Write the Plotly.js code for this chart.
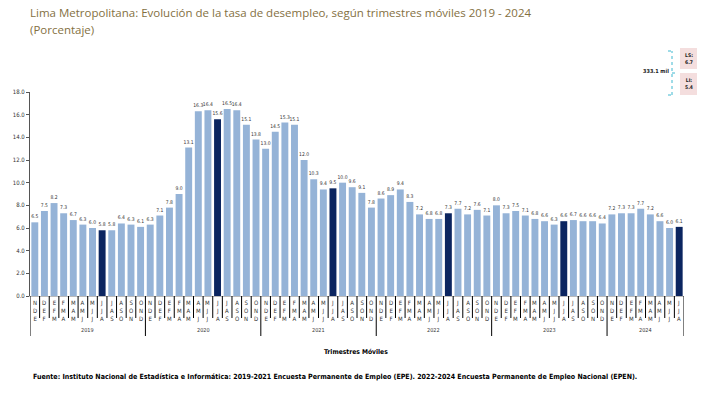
<!DOCTYPE html>
<html>
<head>
<meta charset="utf-8">
<script src="https://cdn.plot.ly/plotly-3.0.1.min.js"></script>
<style>
html,body{margin:0;padding:0;background:#fff;}
#chart{width:709px;height:393px;}
</style>
</head>
<body>
<div id="chart"></div>
<script>
// ---- data ----
const years = ["2019","2020","2021","2022","2023","2024"];
const quarterLabels = ["NDE","DEF","EFM","FMA","MAM","AMJ","MJJ","JJA","JAS","ASO","SON","OND"];
const perYearCount = [12,12,12,12,12,8];
const rate2019 = [6.5,7.5,8.2,7.3,6.7,6.3,6.0,5.8,5.8,6.4,6.3,6.1];
const rate2020 = [6.3,7.1,7.8,9.0,13.1,16.3,16.4,15.6,16.5,16.4,15.1,13.8];
const rate2021 = [13.0,14.5,15.3,15.1,12.0,10.3,9.4,9.5,10.0,9.6,9.1,7.8];
const rate2022 = [8.6,8.9,9.4,8.3,7.2,6.8,6.8,7.3,7.7,7.2,7.6,7.1];
const rate2023 = [8.0,7.3,7.5,7.1,6.8,6.6,6.3,6.6,6.7,6.6,6.6,6.4];
const rate2024 = [7.2,7.3,7.3,7.7,7.2,6.6,6.0,6.1];
const highlightQuarter = "JJA";
const yTicks = [0,2,4,6,8,10,12,14,16,18];

// ---- build ----
const allRates = [rate2019,rate2020,rate2021,rate2022,rate2023,rate2024];
const xs=[], ys=[], labs=[], colors=[];
let idx=0;
const yearStart=[];
allRates.forEach((arr,yi)=>{
  yearStart.push(idx);
  arr.forEach((v,qi)=>{
    xs.push(idx); ys.push(v);
    const q = quarterLabels[qi];
    labs.push(q);
    colors.push(q===highlightQuarter ? "#0b2560" : "#95b3d7");
    idx++;
  });
});
const n = idx;

const narrow = "Liberation Sans Narrow, Arial Narrow, DejaVu Sans Condensed, Liberation Sans, sans-serif";
const shapes=[], annotations=[];
const pxY = p => (296-p)/204;   // pixel y -> paper
const pxX = p => (p-30)/654;    // pixel x -> paper

// category separators
for(let k=0;k<=n;k++){
  const isYear = (k===n) || yearStart.includes(k);
  shapes.push({type:"line", xref:"x", yref:"paper", x0:k-0.5, x1:k-0.5,
    y0:0, y1: isYear ? pxY(336) : pxY(318), line:{color:"#000", width:1}});
}
// category labels
labs.forEach((q,i)=>{
  annotations.push({x:i, xref:"x", yref:"paper", y:pxY(297), xanchor:"center", yanchor:"top", showarrow:false,
    text:q.split("").join("<br>"), font:{family:narrow, size:6, color:"#333"}, align:"center"});
});
// year labels
years.forEach((yr,yi)=>{
  const s=yearStart[yi], c=s+(perYearCount[yi]-1)/2;
  annotations.push({x:c, xref:"x", yref:"paper", y:pxY(330), xanchor:"center", yanchor:"middle", showarrow:false,
    text:yr, font:{family:narrow, size:5.5, color:"#333"}});
});

// titles / texts
annotations.push({xref:"paper", yref:"paper", x:pxX(28), y:pxY(12), xanchor:"left", yanchor:"middle", showarrow:false,
  text:"Lima Metropolitana: Evolución de la tasa de desempleo, según trimestres móviles 2019 - 2024",
  font:{family:"Open Sans, sans-serif", size:11.5, color:"#84703f"}});
annotations.push({xref:"paper", yref:"paper", x:pxX(28), y:pxY(30), xanchor:"left", yanchor:"middle", showarrow:false,
  text:"(Porcentaje)", font:{family:"Open Sans, sans-serif", size:11.5, color:"#84703f"}});
annotations.push({xref:"paper", yref:"paper", x:pxX(356), y:pxY(352), xanchor:"center", yanchor:"middle", showarrow:false,
  text:"<b>Trimestres Móviles</b>", font:{family:narrow, size:6.7, color:"#000"}});
annotations.push({xref:"paper", yref:"paper", x:pxX(31), y:pxY(376), xanchor:"left", yanchor:"middle", showarrow:false,
  text:"<b>Fuente: Instituto Nacional de Estadística e Informática: 2019-2021 Encuesta Permanente de Empleo (EPE). 2022-2024 Encuesta Permanente de Empleo Nacional (EPEN).</b>",
  font:{family:narrow, size:7.05, color:"#000"}});

// confidence box at top right
shapes.push({type:"rect", xref:"paper", yref:"paper", x0:pxX(680), x1:pxX(697), y0:pxY(69), y1:pxY(48), fillcolor:"#f4dede", line:{width:0}});
shapes.push({type:"rect", xref:"paper", yref:"paper", x0:pxX(680), x1:pxX(697), y0:pxY(95), y1:pxY(73), fillcolor:"#f4dede", line:{width:0}});
const cy = {color:"#3fb8d0", width:1, dash:"dot"};
shapes.push({type:"line", xref:"paper", yref:"paper", x0:pxX(672), x1:pxX(672), y0:pxY(95), y1:pxY(51), line:cy});
shapes.push({type:"line", xref:"paper", yref:"paper", x0:pxX(668), x1:pxX(672), y0:pxY(51), y1:pxY(51), line:cy});
shapes.push({type:"line", xref:"paper", yref:"paper", x0:pxX(668), x1:pxX(672), y0:pxY(95), y1:pxY(95), line:cy});
shapes.push({type:"line", xref:"paper", yref:"paper", x0:pxX(672), x1:pxX(676), y0:pxY(73), y1:pxY(73), line:cy});
annotations.push({xref:"paper", yref:"paper", x:pxX(656), y:pxY(71), xanchor:"center", yanchor:"middle", showarrow:false,
  text:"<b>333.1 mil</b>", font:{family:narrow, size:5.5, color:"#222"}});
annotations.push({xref:"paper", yref:"paper", x:pxX(688.5), y:pxY(58.5), xanchor:"center", yanchor:"middle", showarrow:false,
  text:"<b>LS:<br>6.7</b>", font:{family:narrow, size:5, color:"#222"}, align:"center"});
annotations.push({xref:"paper", yref:"paper", x:pxX(688.5), y:pxY(84), xanchor:"center", yanchor:"middle", showarrow:false,
  text:"<b>LI:<br>5.4</b>", font:{family:narrow, size:5, color:"#222"}, align:"center"});

const trace = {
  type:"bar", x:xs, y:ys, width:0.72,
  marker:{color:colors, line:{width:0}},
  text: ys.map(v=>v.toFixed(1)), textposition:"outside", constraintext:"none",
  textfont:{family:narrow, size:5, color:"#333"}, cliponaxis:false, hoverinfo:"skip"
};

const layout = {
  width:709, height:393,
  margin:{l:30, r:25, t:92, b:97},
  paper_bgcolor:"#fff", plot_bgcolor:"#fff",
  showlegend:false,
  xaxis:{range:[-0.5, n-0.5], showticklabels:false, ticks:"", showgrid:false, zeroline:false,
    showline:true, linecolor:"#bbb", linewidth:1, fixedrange:true},
  yaxis:{range:[0,18], tickvals:yTicks, ticktext:yTicks.map(v=>v.toFixed(1)), ticks:"outside", ticklen:3,
    tickcolor:"#555", showgrid:false, zeroline:false, showline:true, linecolor:"#555", linewidth:1,
    tickfont:{family:narrow, size:6, color:"#333"}, fixedrange:true},
  shapes, annotations, bargap:0.28
};
Plotly.newPlot("chart",[trace],layout,{displayModeBar:false, staticPlot:true});
</script>
</body>
</html>
